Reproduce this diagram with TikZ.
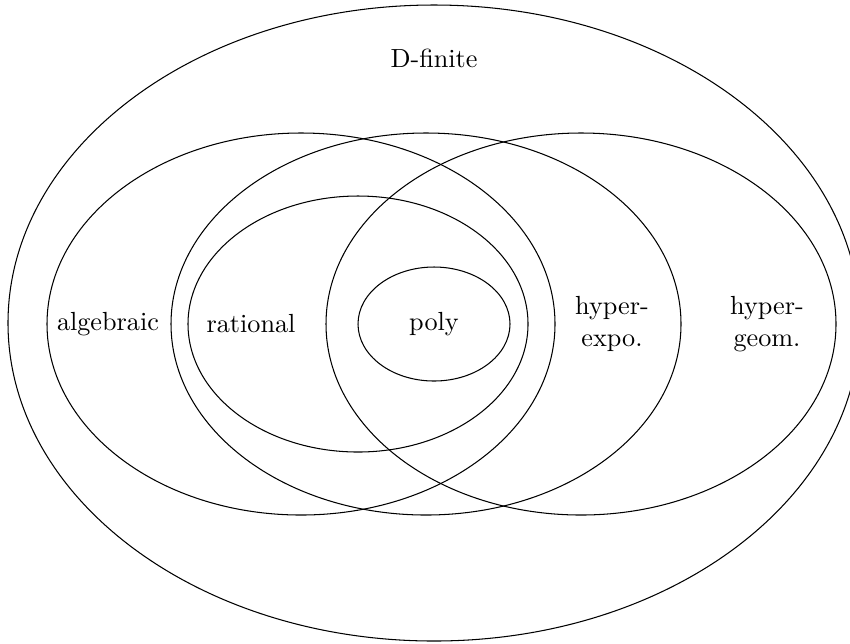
\documentclass[tikz,border=0pt]{standalone}
\usepackage{tikz}
\tikzset{
    class set/.style={draw=black, line width=0.4pt},
    class label/.style={align=center, inner sep=0pt, font=\normalsize},
}

\begin{document}
\begin{tikzpicture}[x=0.01342cm, y=-0.01342cm]
    \useasboundingbox (0,0) rectangle (850,643);

    % Outer class
    \draw[class set] (434,323) ellipse (426 and 318);
    \node[class label] (dfinite) at (434,58) {D-finite};

    % The three big classes
    \draw[class set] (301,324) ellipse (254 and 191);
    \draw[class set] (426,324) ellipse (255 and 191);
    \draw[class set] (581,324) ellipse (255 and 191);

    % Inner classes
    \draw[class set] (358,324) ellipse (170 and 128);
    \draw[class set] (434,324) ellipse (76 and 57);

    % Labels
    \node[class label] (algebraic) at (108,324) {algebraic};
    \node[class label] (rational) at (251,324) {rational};
    \node[class label] (poly) at (434,324) {poly};
    \node[class label] (hyperexpo) at (612,324) {hyper-\\expo.};
    \node[class label] (hypergeom) at (767,324) {hyper-\\geom.};

\end{tikzpicture}
\end{document}
